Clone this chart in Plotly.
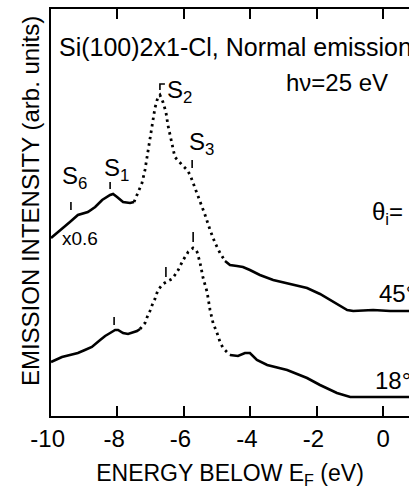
import plotly.graph_objects as go

# ---------------- data ----------------
energy_45 = [-10.0, -9.85, -9.73, -9.58, -9.43, -9.19, -8.89, -8.67, -8.46, -8.22,
             -8.13, -8.01, -7.83, -7.62, -7.50, -7.38, -7.26, -7.17, -7.11, -7.05,
             -6.96, -6.87, -6.78, -6.72, -6.63, -6.54, -6.48, -6.36, -6.27, -6.05,
             -5.90, -5.81, -5.66, -5.51, -5.36, -5.21, -5.06, -4.91, -4.76, -4.61,
             -4.40, -4.22, -4.01, -3.71, -3.31, -2.80, -2.29, -1.90, -1.51, -1.08,
             -0.90, -0.30, 0.21, 0.78]
intensity_45 = [17.8, 18.2, 18.6, 19.0, 19.4, 20.1, 20.4, 20.9, 21.6, 22.1,
                22.2, 21.9, 21.4, 21.3, 21.4, 22.3, 23.3, 24.6, 25.8, 27.4,
                28.8, 30.8, 31.9, 32.1, 31.4, 30.4, 29.1, 27.4, 25.9, 25.1,
                24.6, 24.1, 22.8, 21.4, 20.1, 18.6, 17.3, 16.3, 15.5, 15.1,
                15.0, 14.9, 14.6, 14.1, 13.6, 13.2, 12.8, 12.2, 11.4, 10.6,
                10.5, 10.6, 10.5, 10.5]

energy_18 = [-10.0, -9.85, -9.67, -9.43, -9.19, -8.98, -8.77, -8.52, -8.37, -8.22,
             -8.07, -7.98, -7.83, -7.68, -7.56, -7.41, -7.32, -7.17, -7.08, -7.02,
             -6.93, -6.87, -6.78, -6.63, -6.48, -6.36, -6.27, -6.17, -6.02, -5.87,
             -5.72, -5.66, -5.60, -5.51, -5.42, -5.36, -5.30, -5.21, -5.12, -5.00,
             -4.91, -4.82, -4.61, -4.37, -4.16, -4.01, -3.80, -3.49, -2.89, -2.29,
             -1.90, -1.39, -0.99, -0.09, 0.78]
intensity_18 = [5.4, 5.6, 5.9, 6.1, 6.3, 6.6, 6.9, 7.6, 8.0, 8.3,
                8.6, 8.6, 8.3, 8.2, 8.3, 8.5, 8.7, 9.3, 10.1, 10.5,
                11.3, 11.7, 12.6, 13.2, 13.5, 13.7, 14.1, 14.6, 15.6, 16.4,
                16.8, 16.7, 16.4, 15.3, 13.8, 13.1, 12.4, 10.6, 9.3, 8.3,
                7.4, 6.8, 6.1, 6.0, 6.3, 6.3, 5.6, 5.1, 4.6, 3.8,
                3.1, 2.3, 1.9, 1.9, 1.9]

tick_vals = [-10, -8, -6, -4, -2, 0]
tick_text = ["-10", "-8", "-6", "-4", "-2", "0"]

# feature markers: (energy, y_bottom, y_top)
marks_45 = [(-9.40, 20.6, 21.4), (-8.22, 22.7, 23.4), (-5.75, 24.8, 25.6)]
marks_18 = [(-8.10, 9.1, 9.9), (-6.54, 13.9, 14.9), (-5.72, 17.4, 18.4)]
s2_mark = (-6.72, 32.6, 33.2, -6.57)

# ---------------- style ----------------
FONT = "Liberation Sans, Arial, Helvetica, sans-serif"
dot_ranges = {"45": (-7.50, -4.76), "18": (-7.32, -4.61)}


def split(xs, ys, lo, hi):
    a = [(x, y) for x, y in zip(xs, ys) if x <= lo]
    b = [(x, y) for x, y in zip(xs, ys) if lo <= x <= hi]
    c = [(x, y) for x, y in zip(xs, ys) if x >= hi]
    return a, b, c


fig = go.Figure()
for key, xs, ys in (("45", energy_45, intensity_45), ("18", energy_18, intensity_18)):
    lo, hi = dot_ranges[key]
    a, b, c = split(xs, ys, lo, hi)
    for seg, dash in ((a, "solid"), (b, "2.5px,4px"), (c, "solid")):
        fig.add_trace(go.Scatter(
            x=[p[0] for p in seg], y=[p[1] for p in seg], mode="lines",
            line=dict(color="black", width=2.6 if dash == "solid" else 2.8, dash=dash),
            showlegend=False, hoverinfo="skip"))

for e, y0, y1 in marks_45 + marks_18:
    fig.add_shape(type="line", x0=e, x1=e, y0=y0, y1=y1,
                  line=dict(color="black", width=1.6))
e, y0, y1, e2 = s2_mark
fig.add_shape(type="path", path=f"M {e},{y0} L {e},{y1} L {e2},{y1}",
              line=dict(color="black", width=1.6))


def ann(text, x, y, size=24, xref="x", yref="y"):
    fig.add_annotation(text=text, x=x, y=y, xref=xref, yref=yref,
                       xanchor="left", yanchor="middle", showarrow=False,
                       font=dict(family=FONT, size=size, color="black"))


ann("Si(100)2x1-Cl, Normal emission", -9.83, 36.9, size=25)
ann("hν=25 eV", -2.98, 33.4)
ann("S<sub>2</sub>", -6.56, 32.5)
ann("S<sub>3</sub>", -5.90, 27.3)
ann("S<sub>6</sub>", -9.73, 23.9)
ann("S<sub>1</sub>", -8.45, 24.7)
ann("x0.6", -9.72, 17.75, size=19)
ann("θ<sub>i</sub>=", -0.39, 20.3)
ann("45°", -0.19, 12.3)
ann("18°", -0.30, 3.6)

fig.add_annotation(text="EMISSION INTENSITY (arb. units)", xref="paper", yref="paper",
                   x=-0.0587, y=0.528, textangle=-90, showarrow=False,
                   xanchor="center", yanchor="middle",
                   font=dict(family=FONT, size=24, color="black"))

fig.update_layout(
    width=409, height=489,
    margin=dict(l=51, r=0, t=9, b=73),
    paper_bgcolor="white", plot_bgcolor="white",
    font=dict(family=FONT, color="black"),
    xaxis=dict(range=[-10, 0.78], showline=True, linewidth=2, linecolor="black",
               mirror="ticks", ticks="inside", ticklen=10, tickwidth=2, tickcolor="black",
               tickvals=tick_vals,
               ticktext=[t + ("\u00a0" if t != "0" else "") for t in tick_text],
               tickfont=dict(size=24, family=FONT), showgrid=False, zeroline=False,
               title=dict(text="ENERGY BELOW E<sub>F</sub> (eV)", font=dict(size=23, family=FONT),
                          standoff=16)),
    yaxis=dict(range=[0, 40.7], showline=True, linewidth=2, linecolor="black",
               ticks="", showticklabels=False, showgrid=False, zeroline=False),
)

fig.write_html("out.html")
